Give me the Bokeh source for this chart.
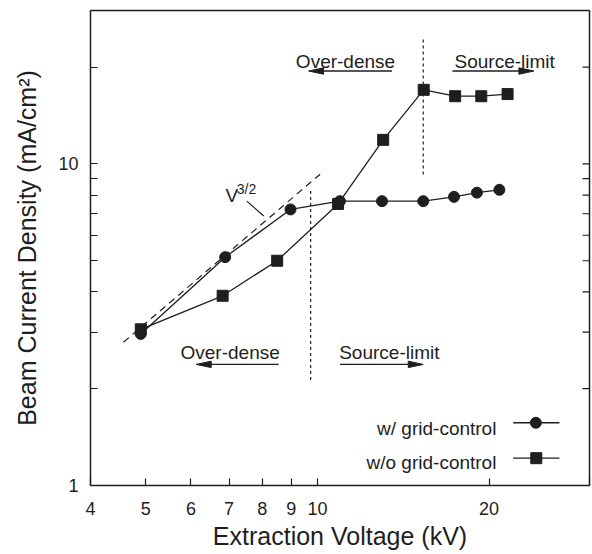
from bokeh.plotting import figure
from bokeh.models import FixedTicker, PrintfTickFormatter, ColumnDataSource
from bokeh.core.properties import value
from bokeh.embed import file_html
from bokeh.resources import INLINE

# ---- data ----
v_grid = [4.90, 6.89, 8.97, 10.95, 12.98, 15.33, 17.36, 19.04, 20.85]
j_grid = [2.96, 5.13, 7.22, 7.66, 7.66, 7.66, 7.90, 8.14, 8.31]
v_nogrid = [4.90, 6.82, 8.50, 10.87, 13.04, 15.36, 17.44, 19.38, 21.55]
j_nogrid = [3.06, 3.89, 5.00, 7.51, 11.88, 17.0, 16.24, 16.24, 16.49]

fit_v = [4.57, 10.11]          # V^(3/2) guide line
fit_j = [2.79, 9.29]

bound_low_v = [9.73, 9.73]     # boundary, w/ grid-control
bound_low_j = [2.13, 8.37]
bound_high_v = [15.33, 15.33]  # boundary, w/o grid-control
bound_high_j = [9.27, 24.6]

x_ticks = [4, 5, 6, 7, 8, 9, 10, 20]      # labelled
x_ticks_unlabelled = [30]
y_ticks = [1, 10]                         # labelled
y_ticks_unlabelled = [2, 3, 4, 5, 6, 7, 8, 9, 20, 30]

series_labels = ["w/ grid-control", "w/o grid-control"]
region_labels = ["Over-dense", "Source-limit", "Over-dense", "Source-limit"]

X_MIN, X_MAX = 4, 30
Y_MIN, Y_MAX = 1, 30

FONT = "Liberation Sans"
INK = "#1e1e1e"
TICK = 7

W, H = 592, 554
BL, BR, BT, BB = 90, 3, 10, 69

p = figure(width=W, height=H, x_axis_type="log", y_axis_type="log",
           x_range=(X_MIN, X_MAX), y_range=(Y_MIN, Y_MAX), output_backend="svg",
           toolbar_location=None, min_border_left=BL, min_border_right=BR,
           min_border_top=BT, min_border_bottom=BB)
p.xgrid.visible = False
p.ygrid.visible = False
p.outline_line_color = INK
p.outline_line_width = 1.5
p.background_fill_color = "white"
p.border_fill_color = "white"

p.xaxis.ticker = FixedTicker(ticks=x_ticks, minor_ticks=x_ticks_unlabelled)
p.yaxis.ticker = FixedTicker(ticks=y_ticks, minor_ticks=y_ticks_unlabelled)
p.xaxis.formatter = PrintfTickFormatter(format="%d")
p.yaxis.formatter = PrintfTickFormatter(format="%d")

for ax in (p.xaxis[0], p.yaxis[0]):
    ax.axis_line_color = None
    ax.major_tick_in = TICK
    ax.major_tick_out = 0
    ax.minor_tick_in = TICK
    ax.minor_tick_out = 0
    ax.major_tick_line_color = INK
    ax.major_tick_line_width = 1.2
    ax.minor_tick_line_color = INK
    ax.minor_tick_line_width = 1.2
    ax.major_label_text_font = FONT
    ax.major_label_text_font_size = "18px"
    ax.major_label_text_color = INK
    ax.axis_label_text_font = FONT
    ax.axis_label_text_font_size = "25px"
    ax.axis_label_text_font_style = "normal"
    ax.axis_label_text_color = INK

p.xaxis.axis_label = "Extraction Voltage (kV)"
p.yaxis.axis_label = "Beam Current Density (mA/cm²)"
p.xaxis.major_label_standoff = 16
p.xaxis.axis_label_standoff = 4
p.yaxis.major_label_standoff = 12
p.yaxis.axis_label_standoff = 14

# inward ticks on the right edge (same length as the left-axis ticks)
PX_X = (W - BL - BR) / 0.87506       # pixels per decade, x (approx.)
PX_Y = (H - BT - BB) / 1.47712       # pixels per decade, y (approx.)
tick_fx = 10 ** (TICK / PX_X)
rt = y_ticks + y_ticks_unlabelled
p.segment(x0=[X_MAX / tick_fx] * len(rt), y0=rt, x1=[X_MAX] * len(rt), y1=rt,
          line_color=INK, line_width=1.2)

# guide and boundary lines
p.line(fit_v, fit_j, line_color=INK, line_width=1.2, line_dash="7 5")
p.line(bound_low_v, bound_low_j, line_color=INK, line_width=1.2, line_dash="3 3")
p.line(bound_high_v, bound_high_j, line_color=INK, line_width=1.2, line_dash="3 3")

# data series
p.line(v_grid, j_grid, line_color=INK, line_width=1.3)
p.line(v_nogrid, j_nogrid, line_color=INK, line_width=1.3)
p.scatter(v_nogrid, j_nogrid, marker="square", size=11, color=INK)
p.scatter(v_grid, j_grid, marker="circle", size=11, color=INK)

# V^3/2 label with leader
p.text(x=[6.90], y=[7.96], text=["V"], text_font=value(FONT),
       text_font_size="19px", text_color=INK, text_align="left",
       text_baseline="alphabetic")
p.text(x=[7.22], y=[8.37], text=["3/2"], text_font=value(FONT),
       text_font_size="14px", text_color=INK, text_align="left",
       text_baseline="alphabetic")
p.line([7.52, 8.05], [7.66, 6.89], line_color=INK, line_width=1.2)

# region labels
reg = ColumnDataSource(dict(x=[7.03, 13.37, 11.2, 21.3],
                            y=[2.585, 2.585, 20.88, 20.88],
                            t=region_labels))
p.text(x="x", y="y", text="t", source=reg, text_font=value(FONT),
       text_font_size="19px", text_color=INK, text_align="center",
       text_baseline="alphabetic")

# arrows: line + slim filled head (head sized in pixels, converted to log factors)
HEAD_L = 15
HEAD_W = 3.2
fx = 10 ** (HEAD_L / PX_X)
fy = 10 ** (HEAD_W / PX_Y)
arrows = [(8.55, 6.13, 2.38), (10.95, 15.33, 2.38),
          (13.51, 9.65, 19.45), (17.25, 23.97, 19.45)]
hx, hy = [], []
for xs, xe, ya in arrows:
    base = xe / fx if xe > xs else xe * fx
    p.line([xs, base], [ya, ya], line_color=INK, line_width=1.4)
    hx.append([xe, base, base])
    hy.append([ya, ya * fy, ya / fy])
p.patches(hx, hy, fill_color=INK, line_color=INK, line_width=1)

# legend (drawn by hand: label left of the sample)
leg_y = [1.567, 1.216]
leg_text_y = [1.509, 1.176]
p.text(x=[20.6, 20.6], y=leg_text_y, text=series_labels, text_font=value(FONT),
       text_font_size="19px", text_color=INK, text_align="right",
       text_baseline="alphabetic")
for yy in leg_y:
    p.line([22.04, 26.57], [yy, yy], line_color=INK, line_width=1.3)
p.scatter([24.16], [leg_y[0]], marker="circle", size=11, color=INK)
p.scatter([24.2], [leg_y[1]], marker="square", size=11, color=INK)

open("out.html", "w").write(file_html(p, INLINE))
